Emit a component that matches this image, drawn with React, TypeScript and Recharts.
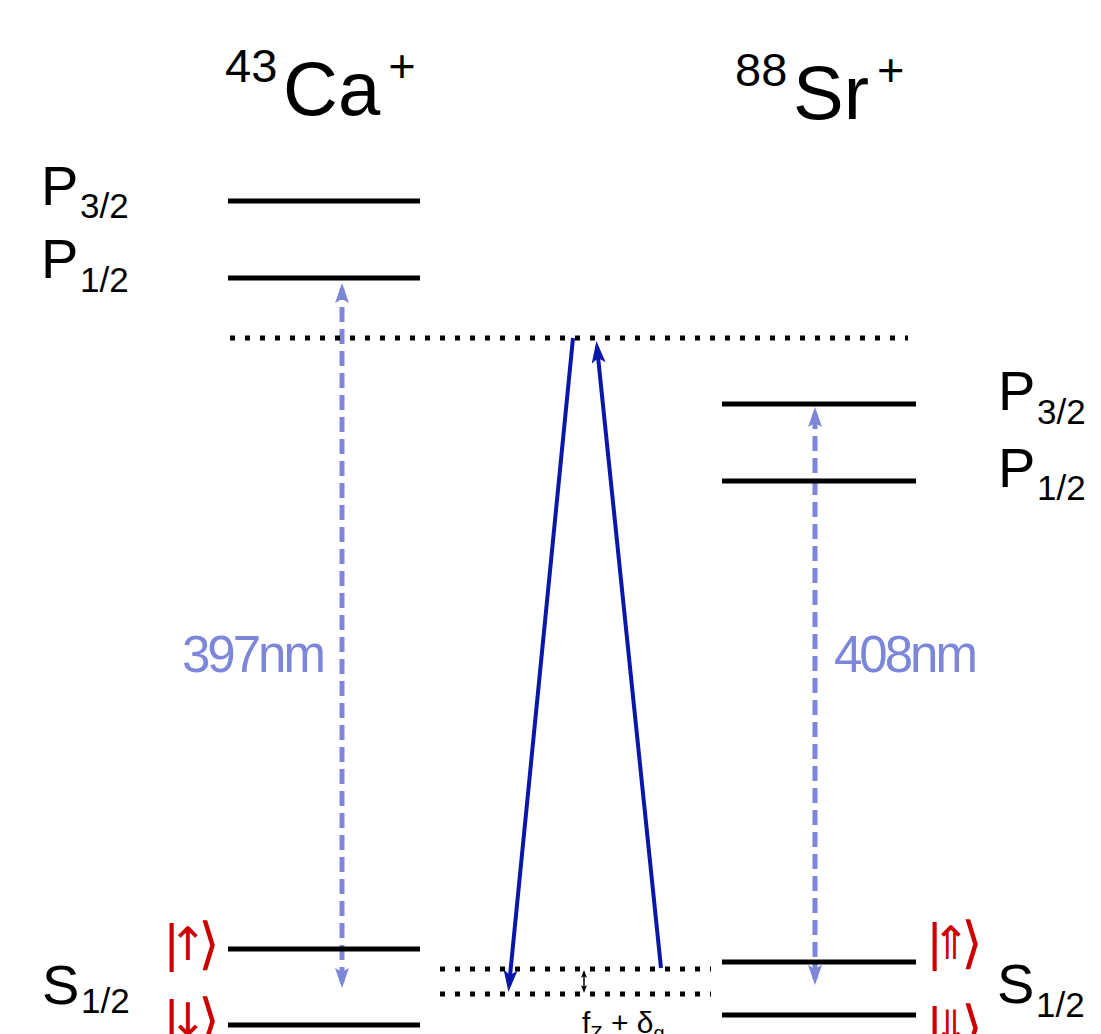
import { ComposedChart, XAxis, YAxis, Scatter, ReferenceLine, ReferenceDot } from "recharts";

const W = 1101, H = 1034;
const FONT = '"Liberation Sans", Arial, "DejaVu Sans", sans-serif';
const BLUE = "#0a17a8", LIGHT = "#7d87d9", RED = "#cc0000";

// energy levels (diagram units = y downwards)
const caSpan = [228, 420];
const caLevels = [201, 278, 949, 1025];
const srSpan = [722, 916];
const srLevels = [404, 481, 962, 1015];
const virtualSpan = [230, 908];
const virtualLevel = 338;
const groundSpan = [440, 711];
const groundLevels = [969, 994];

// raman beams (start -> arrow end)
const beams = [
  { x1: 573, y1: 338, x2: 509, y2: 986 },
  { x1: 661, y1: 968, x2: 597, y2: 347 },
];
// dipole transitions, double headed
const transitions = [
  { name: "397nm", x: 342, yLow: 982, yHigh: 289, lx: 182, ly: 672 },
  { name: "408nm", x: 815, yLow: 979, yHigh: 413, lx: 834, ly: 672 },
];

const titles = [
  { iso: "43", el: "Ca", x: 225, y: 115 },
  { iso: "88", el: "Sr", x: 735, y: 119 },
];
const stateLabels = [
  { main: "P", sub: "3/2", x: 41, y: 205, subDy: 13 },
  { main: "P", sub: "1/2", x: 41, y: 278, subDy: 14 },
  { main: "S", sub: "1/2", x: 42, y: 1004, subDy: 9 },
  { main: "P", sub: "3/2", x: 998, y: 410, subDy: 14 },
  { main: "P", sub: "1/2", x: 998, y: 487, subDy: 13 },
  { main: "S", sub: "1/2", x: 997, y: 1003, subDy: 14 },
];
const kets = [
  { arrow: "↑", x: 165, y: 961 },
  { arrow: "↓", x: 165, y: 1037 },
  { arrow: "⇑", x: 928, y: 960 },
  { arrow: "⇓", x: 928, y: 1044 },
];
const splitting = { x: 584, yTop: 972, yBottom: 991, lx: 582, ly: 1033 };

const seg = (x1: number, y1: number, x2: number, y2: number) => [{ x: x1, y: y1 }, { x: x2, y: y2 }];

const levelRows = [
  ...caLevels.map((y) => ({ key: "ca" + y, pts: seg(caSpan[0], y, caSpan[1], y), dotted: false })),
  ...srLevels.map((y) => ({ key: "sr" + y, pts: seg(srSpan[0], y, srSpan[1], y), dotted: false })),
  { key: "virt", pts: seg(virtualSpan[0], virtualLevel, virtualSpan[1], virtualLevel), dotted: true },
  ...groundLevels.map((y) => ({ key: "g" + y, pts: seg(groundSpan[0], y, groundSpan[1], y), dotted: true })),
];
const allPts = levelRows.flatMap((r) => r.pts);
const NoDot = () => <g />;

export default function App() {
  return (
    <div style={{ position: "absolute", left: 0, top: 0, background: "#fff" }}>
      <ComposedChart width={W} height={H} margin={{ top: 0, right: 0, bottom: 0, left: 0 }} data={allPts}>
        <defs>
          <marker id="hBlue" markerUnits="userSpaceOnUse" viewBox="0 0 22 14" markerWidth={22} markerHeight={14} refX={16} refY={7} orient="auto">
            <path d="M0,0 L22,7 L0,14 L5,7 Z" fill={BLUE} />
          </marker>
          <marker id="hLight" markerUnits="userSpaceOnUse" viewBox="0 0 20 14" markerWidth={20} markerHeight={14} refX={14} refY={7} orient="auto-start-reverse">
            <path d="M0,0 L20,7 L0,14 L4,7 Z" fill={LIGHT} />
          </marker>
          <marker id="hSmall" markerUnits="userSpaceOnUse" viewBox="0 0 8 6" markerWidth={8} markerHeight={6} refX={6} refY={3} orient="auto-start-reverse">
            <path d="M0,0 L8,3 L0,6 L2,3 Z" fill="#000" />
          </marker>
        </defs>
        <XAxis type="number" dataKey="x" domain={[0, W]} allowDataOverflow hide />
        <YAxis type="number" dataKey="y" domain={[0, H]} allowDataOverflow reversed hide />

        {levelRows.map((r) => (
          <Scatter key={r.key} data={r.pts} dataKey="y" isAnimationActive={false} shape={NoDot} lineType="joint"
            line={r.dotted
              ? { stroke: "#000", strokeWidth: 5, strokeDasharray: "5 10" }
              : { stroke: "#000", strokeWidth: 5 }} />
        ))}

        {transitions.map((t) => (
          <ReferenceLine key={t.name} segment={seg(t.x, t.yLow, t.x, t.yHigh)} stroke={LIGHT} strokeWidth={5} strokeDasharray="15 7"
            markerStart="url(#hLight)" markerEnd="url(#hLight)" ifOverflow="visible" />
        ))}
        {beams.map((b, i) => (
          <ReferenceLine key={"b" + i} segment={seg(b.x1, b.y1, b.x2, b.y2)} stroke={BLUE} strokeWidth={4} markerEnd="url(#hBlue)" ifOverflow="visible" />
        ))}
        <ReferenceLine segment={seg(splitting.x, splitting.yTop, splitting.x, splitting.yBottom)} stroke="#000" strokeWidth={1.5}
          markerStart="url(#hSmall)" markerEnd="url(#hSmall)" ifOverflow="visible" />

        {titles.map((t) => (
          <ReferenceDot key={t.el} x={t.x} y={t.y} ifOverflow="visible"
            shape={(p: any) => (
              <text fontFamily={FONT} fill="#000">
                <tspan x={p.cx} y={p.cy - 33} fontSize={47}>{t.iso}</tspan>
                <tspan x={p.cx + 58} y={p.cy} fontSize={76}>{t.el}</tspan>
                <tspan dx={8} y={p.cy - 33} fontSize={47}>+</tspan>
              </text>
            )} />
        ))}
        {stateLabels.map((s, i) => (
          <ReferenceDot key={"s" + i} x={s.x} y={s.y} ifOverflow="visible"
            shape={(p: any) => (
              <text fontFamily={FONT} fill="#000">
                <tspan x={p.cx} y={p.cy} fontSize={56}>{s.main}</tspan>
                <tspan x={p.cx + 39} y={p.cy + s.subDy} fontSize={35}>{s.sub}</tspan>
              </text>
            )} />
        ))}
        {kets.map((k, i) => (
          <ReferenceDot key={"k" + i} x={k.x} y={k.y} ifOverflow="visible"
            shape={(p: any) => (
              <text fontFamily={FONT} fill={RED} fontSize={51}>
                <tspan x={p.cx} y={p.cy}>|</tspan>
                <tspan x={p.cx + 23} y={p.cy - 1} textAnchor="middle" fontSize={46} fontFamily='"DejaVu Sans", sans-serif'>{k.arrow}</tspan>
                <tspan x={p.cx + 33} y={p.cy + 2} fontFamily='"DejaVu Sans", sans-serif' fontSize={56}>⟩</tspan>
              </text>
            )} />
        ))}
        {transitions.map((t) => (
          <ReferenceDot key={"l" + t.name} x={t.lx} y={t.ly} ifOverflow="visible"
            shape={(p: any) => (
              <text x={p.cx} y={p.cy} fontFamily={FONT} fontSize={51} letterSpacing={-3} fill={LIGHT}>{t.name}</text>
            )} />
        ))}
        <ReferenceDot x={splitting.lx} y={splitting.ly} ifOverflow="visible"
          shape={(p: any) => (
            <text x={p.cx} y={p.cy} fontFamily={FONT} fontSize={30} fill="#000">
              f<tspan fontSize={20} dy={7}>Z</tspan>
              <tspan dy={-7}> + δ</tspan>
              <tspan fontSize={20} dy={7}>g</tspan>
            </text>
          )} />
      </ComposedChart>
    </div>
  );
}
